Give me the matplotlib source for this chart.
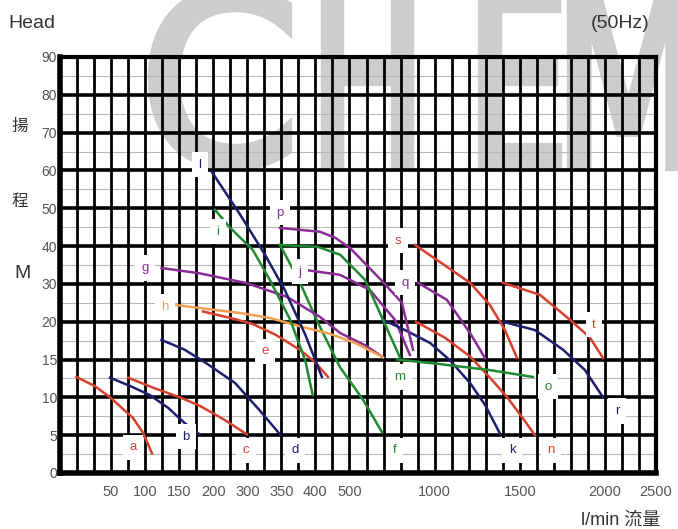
import numpy as np
import matplotlib
matplotlib.use("Agg")
import matplotlib.pyplot as plt
from matplotlib.textpath import TextPath
from matplotlib.patches import PathPatch
from matplotlib.transforms import Affine2D, IdentityTransform
from matplotlib.font_manager import FontProperties

plt.rcParams['font.family'] = ['Liberation Sans', 'Noto Sans CJK TC']

# piecewise axis breakpoints (value -> grid unit)
x_units = [0, 3, 5, 7, 9, 11, 13, 15, 17, 22, 27, 32, 35]
x_vals = [0, 50, 100, 150, 200, 300, 350, 400, 500, 1000, 1500, 2000, 2500]
y_units = list(range(12))
y_vals = [0, 5, 10, 15, 20, 30, 40, 50, 60, 70, 80, 90]

x_ticks = [50, 100, 150, 200, 300, 350, 400, 500, 1000, 1500, 2000, 2500]
y_ticks = [0, 5, 10, 15, 20, 30, 40, 50, 60, 70, 80, 90]

# pump curves: flow (l/min), head (m)
a_q = [16, 34, 49, 67, 82, 97, 110]
a_h = [12.7, 11.5, 10.0, 8.5, 7.3, 5.3, 2.6]
b_q = [49, 78, 107, 134, 158, 180]
b_h = [12.6, 11.5, 10.3, 8.6, 6.6, 5.1]
c_q = [75, 114, 151, 180, 234, 299]
c_h = [12.6, 11.2, 10.0, 8.9, 7.0, 5.1]
d_q = [124, 158, 190, 264, 318, 348]
d_h = [17.6, 16.3, 14.5, 11.9, 8.3, 5.1]
e_q = [185, 250, 308, 341, 377, 399, 437]
e_h = [22.7, 21.0, 19.7, 18.3, 16.3, 14.7, 12.7]
f_q = [348, 377, 407, 472, 579, 691]
f_h = [40.3, 30.5, 19.9, 14.0, 9.7, 5.4]
g_q = [124, 180, 298, 358, 413, 473, 591, 697]
g_h = [34.2, 32.8, 30.2, 26.6, 21.3, 18.5, 16.9, 15.3]
h_q = [146, 190, 279, 333, 377, 443, 532, 697]
h_h = [24.4, 23.4, 22.3, 21.0, 19.4, 18.4, 17.2, 15.3]
i_q = [205, 250, 308, 333, 363, 385, 396]
i_h = [49.6, 44.8, 39.0, 31.1, 20.5, 14.9, 10.3]
j_q = [385, 472, 620, 767, 855]
j_h = [33.7, 32.4, 28.4, 20.5, 15.6]
k_q = [697, 826, 973, 1090, 1208, 1296, 1384]
k_h = [20.5, 18.9, 17.2, 14.9, 11.9, 9.0, 5.2]
l_q = [198, 279, 326, 355, 385, 419]
l_h = [59.6, 48.3, 37.7, 28.4, 18.3, 12.7]
m_q = [348, 407, 473, 591, 697, 796]
m_h = [40.3, 39.8, 37.7, 31.1, 20.5, 15.3]
n_q = [890, 1060, 1208, 1325, 1423, 1513, 1589]
n_h = [20.0, 17.9, 15.4, 12.6, 10.1, 7.4, 5.0]
o_q = [779, 1031, 1325, 1577]
o_h = [15.0, 14.4, 13.6, 12.7]
p_q = [348, 413, 458, 503, 697, 808, 873]
p_h = [44.8, 43.8, 42.2, 39.5, 30.5, 25.0, 16.3]
q_q = [902, 1072, 1208, 1296]
q_h = [30.3, 25.8, 18.5, 15.2]
r_q = [1401, 1589, 1754, 1883, 1989]
r_h = [20.0, 18.9, 16.3, 13.6, 10.0]
s_q = [885, 1031, 1208, 1325, 1413, 1484]
s_h = [40.3, 35.8, 30.3, 24.4, 18.9, 15.2]
t_q = [1401, 1619, 1795, 1912, 1989]
t_h = [30.3, 27.1, 20.5, 17.9, 15.2]

curve_names = list("abcdefghijklmnopqrst")
curve_q = [a_q, b_q, c_q, d_q, e_q, f_q, g_q, h_q, i_q, j_q,
           k_q, l_q, m_q, n_q, o_q, p_q, q_q, r_q, s_q, t_q]
curve_h = [a_h, b_h, c_h, d_h, e_h, f_h, g_h, h_h, i_h, j_h,
           k_h, l_h, m_h, n_h, o_h, p_h, q_h, r_h, s_h, t_h]

label_q = [82, 160, 296, 370, 326, 767, 100, 129, 214, 377,
           1454, 180, 796, 1683, 1665, 348, 826, 2117, 785, 1936]
label_h = [3.4, 4.8, 3.0, 3.0, 16.1, 3.0, 34.2, 23.9, 43.8, 33.2,
           3.0, 61.5, 12.7, 3.0, 11.4, 48.8, 30.3, 8.2, 41.4, 19.6]

RED = "#d8402e"
NAVY = "#1c1f6e"
GREEN = "#1f8a30"
PURPLE = "#8a2c96"
ORANGE = "#f0a050"
colors = [RED, NAVY, RED, NAVY, RED, GREEN, PURPLE, ORANGE, GREEN, PURPLE,
          NAVY, NAVY, GREEN, RED, GREEN, PURPLE, PURPLE, NAVY, RED, RED]


def fx(v):
    return np.interp(v, x_vals, x_units)


def ix(u):
    return np.interp(u, x_units, x_vals)


def fy(v):
    return np.interp(v, y_vals, y_units)


def iy(u):
    return np.interp(u, y_units, y_vals)


fig = plt.figure(figsize=(6.78, 5.29), dpi=100)

# faint watermark letters behind the chart, each fitted into a pixel box
# (x0, x1, y_bottom, y_top) measured from the figure's lower-left corner
wm_font = FontProperties(family="DejaVu Sans")
for letter, (x0, x1, y0, y1) in zip("CHEM", [(152, 288, 362, 540), (325, 410, 362, 540),
                                             (482, 558, 362, 540), (571, 686, 362, 540)]):
    tp = TextPath((0, 0), letter, size=100, prop=wm_font)
    ext = tp.get_extents()
    tr = (Affine2D().translate(-ext.x0, -ext.y0)
          .scale((x1 - x0) / ext.width, (y1 - y0) / ext.height).translate(x0, y0))
    fig.patches.append(PathPatch(tp, transform=tr + IdentityTransform(),
                                 fc="#cdcdcd", ec="#cdcdcd", lw=6, joinstyle="miter",
                                 zorder=-5))

ax = fig.add_axes([60 / 678, 56 / 529, 596 / 678, 416 / 529])
ax.set_facecolor("none")
ax.set_xscale('function', functions=(fx, ix))
ax.set_yscale('function', functions=(fy, iy))
ax.set_xlim(0, 2500)
ax.set_ylim(0, 90)

# grid
for u in range(1, 35):
    ax.axvline(ix(u), color="black", lw=2, zorder=1)
for u in range(11):
    ax.axhline(iy(u + 0.5), color="#b8b8b8", lw=0.8, zorder=0.5)
for u in range(1, 11):
    ax.axhline(iy(u), color="black", lw=2.6, zorder=1)

for name, q, h, c in zip(curve_names, curve_q, curve_h, colors):
    ax.plot(q, h, color=c, lw=1.8, zorder=3)

for name, q, h, c in zip(curve_names, label_q, label_h, colors):
    ax.text(q, h, name, color=c, fontsize=9.5, ha="center", va="center", zorder=4,
            bbox=dict(boxstyle="square,pad=0.5", fc="white", ec="none"))

ax.set_xticks(x_ticks)
ax.set_xticklabels([str(v) for v in x_ticks])
ax.set_yticks(y_ticks)
ax.set_yticklabels([str(v) for v in y_ticks])
ax.xaxis.set_minor_locator(matplotlib.ticker.NullLocator())
ax.yaxis.set_minor_locator(matplotlib.ticker.NullLocator())
ax.tick_params(length=0, labelcolor="#555555")
ax.tick_params(axis="x", pad=9, labelsize=10.5)
ax.tick_params(axis="y", pad=2, labelsize=10)

for side in ["left", "bottom"]:
    ax.spines[side].set_linewidth(4)
for side in ["top", "right"]:
    ax.spines[side].set_linewidth(3)

fig.text(8 / 678, 1 - 23 / 529, "Head", fontsize=14, color="#333333", va="center")
fig.text(620 / 678, 1 - 23 / 529, "(50Hz)", fontsize=14, color="#333333", va="center", ha="center")
fig.text(20 / 678, 1 - 126 / 529, "揚", fontsize=12, color="#333333", ha="center", va="center",
         family=['Noto Sans CJK TC'])
fig.text(20 / 678, 1 - 201 / 529, "程", fontsize=12, color="#333333", ha="center", va="center",
         family=['Noto Sans CJK TC'])
fig.text(22 / 678, 1 - 274 / 529, "M", fontsize=14, color="#333333", ha="center", va="center")
fig.text(621 / 678, 1 - 520 / 529, "l/min 流量", fontsize=13, color="#333333", ha="center", va="center",
         family=['Liberation Sans', 'Noto Sans CJK TC'])

fig.savefig("out.png", dpi=100)
